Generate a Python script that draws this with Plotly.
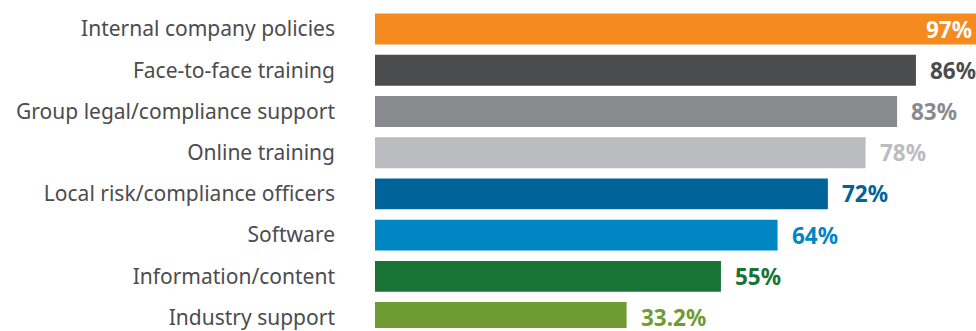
import plotly.graph_objects as go

categories = [
    "Internal company policies",
    "Face-to-face training",
    "Group legal/compliance support",
    "Online training",
    "Local risk/compliance officers",
    "Software",
    "Information/content",
    "Industry support",
]
# bar lengths as drawn in the picture (last bar is drawn longer than its label)
values = [97, 86, 83, 78, 72, 64, 55, 40]
labels = ["97%", "86%", "83%", "78%", "72%", "64%", "55%", "33.2%"]
colors = ["#F58A1F", "#4B4C4E", "#898A8D", "#BBBCBF", "#00649A", "#0086C3", "#187335", "#6E9B32"]
label_colors = ["#FFFFFF"] + colors[1:]

fig = go.Figure()
fig.add_trace(go.Bar(
    x=values, y=categories, orientation="h",
    marker=dict(color=colors, line=dict(width=0)),
    hoverinfo="skip",
))

annotations = []
for i, (v, lab, c) in enumerate(zip(values, labels, label_colors)):
    font = dict(family="Noto Sans", size=22.5, color=c, weight="bold")
    if i == 0:
        annotations.append(dict(x=1, xref="paper", y=categories[i], yref="y", text=lab,
                                showarrow=False, xanchor="right", xshift=-2, font=font))
    else:
        annotations.append(dict(x=v, xref="x", y=categories[i], yref="y", text=lab,
                                showarrow=False, xanchor="left", xshift=12, font=font))

fig.update_layout(
    width=976, height=331,
    margin=dict(l=375, r=0, t=0, b=0),
    paper_bgcolor="white", plot_bgcolor="white",
    bargap=0.25,
    showlegend=False,
    annotations=annotations,
    xaxis=dict(range=[0, 95.55], visible=False, fixedrange=True),
    yaxis=dict(categoryorder="array", categoryarray=categories, range=[7.253, -0.704],
               showgrid=False, zeroline=False, showline=False, ticks="",
               ticklabelstandoff=39,
               tickfont=dict(family="Noto Sans", size=21, color="#4B4C4E")),
)

fig.write_html("out.html")
